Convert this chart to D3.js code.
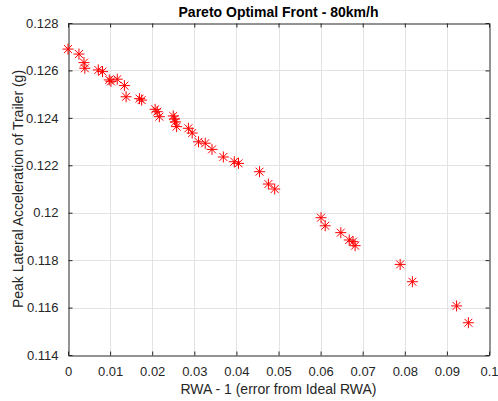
<!DOCTYPE html>
<html>
<head>
<meta charset="utf-8">
<script src="https://cdn.jsdelivr.net/npm/d3@7"></script>
<style>
  html, body { margin: 0; padding: 0; background: #fff; }
  svg { display: block; font-family: "Liberation Sans", Arial, Helvetica, sans-serif; }
</style>
</head>
<body>
<svg id="chart" width="498" height="401"></svg>
<script>
// Pareto front samples: RWA error vs. peak lateral acceleration of trailer
const rwaError = [
  0.0000, 0.0026, 0.0038, 0.0040, 0.0072, 0.0082, 0.0098, 0.0102, 0.0117, 0.0134,
  0.0138, 0.0170, 0.0175, 0.0207, 0.0212, 0.0217, 0.0250, 0.0253, 0.0255, 0.0258,
  0.0286, 0.0295, 0.0310, 0.0326, 0.0342, 0.0369, 0.0395, 0.0405, 0.0455, 0.0476,
  0.0491, 0.0601, 0.0611, 0.0648, 0.0668, 0.0677, 0.0682, 0.0789, 0.0818, 0.0923,
  0.0951
];
const peakLatAcc = [
  0.12690, 0.12669, 0.12633, 0.12609, 0.12602, 0.12595, 0.12560, 0.12554, 0.12563, 0.12536,
  0.12489, 0.12481, 0.12475, 0.12436, 0.12426, 0.12405, 0.12408, 0.12395, 0.12383, 0.12363,
  0.12356, 0.12336, 0.12299, 0.12293, 0.12267, 0.12235, 0.12215, 0.12208, 0.12173, 0.12121,
  0.12100, 0.11979, 0.11945, 0.11916, 0.11885, 0.11878, 0.11861, 0.11782, 0.11709, 0.11607,
  0.11536
];
const xTicks = [0, 0.01, 0.02, 0.03, 0.04, 0.05, 0.06, 0.07, 0.08, 0.09, 0.1];
const yTicks = [0.114, 0.116, 0.118, 0.12, 0.122, 0.124, 0.126, 0.128];
const titleText = "Pareto Optimal Front - 80km/h";
const xLabelText = "RWA - 1 (error from Ideal RWA)";
const yLabelText = "Peak Lateral Acceleration of Trailer (g)";

const svg = d3.select("#chart");
const plot = { left: 68, right: 489, top: 23, bottom: 355 };
const axisColor = "#262626";
const gridColor = "#e3e3e3";

const x = d3.scaleLinear().domain([0, 0.1]).range([plot.left, plot.right]);
const y = d3.scaleLinear().domain([0.114, 0.128]).range([plot.bottom, plot.top]);

const fmt = d => String(+d.toFixed(3));

// grid
const grid = svg.append("g");
grid.selectAll("line.gx").data(xTicks.slice(1, -1)).join("line")
  .attr("x1", d => Math.round(x(d)) + 0.5).attr("x2", d => Math.round(x(d)) + 0.5)
  .attr("y1", plot.top).attr("y2", plot.bottom)
  .attr("stroke", gridColor).attr("stroke-width", 1);
grid.selectAll("line.gy").data(yTicks.slice(1, -1)).join("line")
  .attr("y1", d => Math.round(y(d)) + 0.5).attr("y2", d => Math.round(y(d)) + 0.5)
  .attr("x1", plot.left).attr("x2", plot.right)
  .attr("stroke", gridColor).attr("stroke-width", 1);

// axes (ticks point inward, box on all sides)
const tickLen = 4;
const xAxisB = d3.axisBottom(x).tickValues(xTicks).tickFormat(fmt).tickSizeInner(-tickLen).tickSizeOuter(0).tickPadding(11);
const xAxisT = d3.axisTop(x).tickValues(xTicks).tickFormat("").tickSizeInner(-tickLen).tickSizeOuter(0);
const yAxisL = d3.axisLeft(y).tickValues(yTicks).tickFormat(fmt).tickSizeInner(-tickLen).tickSizeOuter(0).tickPadding(10);
const yAxisR = d3.axisRight(y).tickValues(yTicks).tickFormat("").tickSizeInner(-tickLen).tickSizeOuter(0);

function styleAxis(g) {
  g.selectAll("path.domain").attr("stroke", axisColor).attr("stroke-width", 1);
  g.selectAll(".tick line").attr("stroke", axisColor);
  g.selectAll(".tick text").attr("fill", axisColor).style("font-size", "13px")
    .style("font-family", "'Liberation Sans', Arial, Helvetica, sans-serif");
}
svg.append("g").attr("transform", `translate(0,${plot.bottom + 0.5})`).call(xAxisB).call(styleAxis);
svg.append("g").attr("transform", `translate(0,${plot.top + 0.5})`).call(xAxisT).call(styleAxis);
svg.append("g").attr("transform", `translate(${plot.left + 0.5},0)`).call(yAxisL).call(styleAxis);
svg.append("g").attr("transform", `translate(${plot.right + 0.5},0)`).call(yAxisR).call(styleAxis);

// asterisk markers
const r = 5.5, rd = r * 0.72;
const star = `M0,${-r}V${r}M${-r},0H${r}M${-rd},${-rd}L${rd},${rd}M${-rd},${rd}L${rd},${-rd}`;
svg.append("g").selectAll("path").data(rwaError.map((v, i) => [v, peakLatAcc[i]])).join("path")
  .attr("transform", d => `translate(${x(d[0])},${y(d[1])})`)
  .attr("d", star)
  .attr("fill", "none")
  .attr("stroke", "#ff0000")
  .attr("stroke-width", 1);

// title and axis labels
svg.append("text").attr("x", (plot.left + plot.right) / 2).attr("y", 17)
  .attr("text-anchor", "middle").attr("font-weight", "bold").attr("font-size", 14)
  .attr("fill", "#000").text(titleText);
svg.append("text").attr("x", (plot.left + plot.right) / 2).attr("y", 394)
  .attr("text-anchor", "middle").attr("font-size", 14).attr("fill", axisColor).text(xLabelText);
svg.append("text").attr("transform", `translate(23,${(plot.top + plot.bottom) / 2}) rotate(-90)`)
  .attr("text-anchor", "middle").attr("font-size", 14).attr("fill", axisColor).text(yLabelText);
</script>
</body>
</html>
